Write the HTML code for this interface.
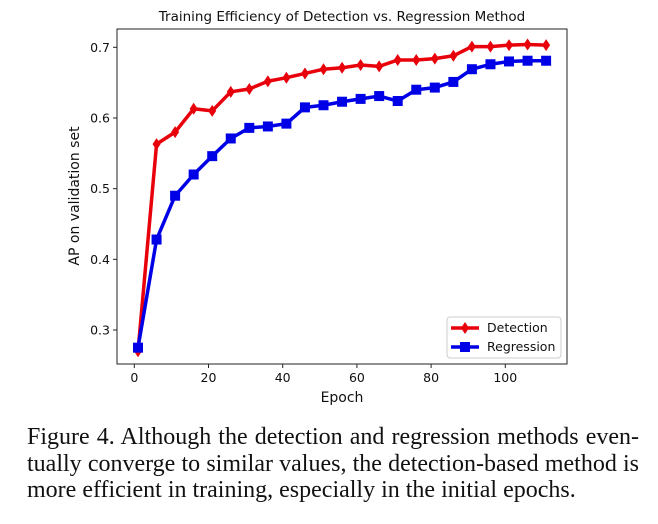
<!DOCTYPE html>
<html><head><meta charset="utf-8"><style>
body{margin:0;background:#fff;width:658px;height:524px;overflow:hidden;position:relative}
svg{position:absolute;left:0;top:0}
.cap{position:absolute;left:27px;top:424px;width:612px;font-family:"Liberation Serif",serif;font-size:24px;line-height:26.5px;color:#111}
.cap div{white-space:nowrap}
.cap .j{text-align:justify;text-align-last:justify;white-space:normal}
</style></head><body>
<svg width="658" height="420" id="chart" font-family="DejaVu Sans, Liberation Sans, sans-serif"></svg>
<div class="cap"><div class="j">Figure 4. Although the detection and regression methods even-</div><div class="j">tually converge to similar values, the detection-based method is</div><div>more efficient in training, especially in the initial epochs.</div></div>
<script>
const epochs=[1,6,11,16,21,26,31,36,41,46,51,56,61,66,71,76,81,86,91,96,101,106,111];
const detection=[0.27,0.563,0.58,0.613,0.61,0.637,0.641,0.652,0.657,0.663,0.669,0.671,0.675,0.673,0.682,0.682,0.684,0.688,0.701,0.701,0.703,0.704,0.703];
const regression=[0.275,0.428,0.49,0.52,0.546,0.571,0.586,0.588,0.592,0.615,0.618,0.623,0.627,0.631,0.624,0.640,0.643,0.651,0.669,0.676,0.680,0.681,0.681];
const xTicks=[0,20,40,60,80,100];
const yTicks=[0.3,0.4,0.5,0.6,0.7];
const L=117,R=567,T=29,B=364;
const sx=v=>134.3+(v-0)*(505.3-134.3)/100;
const sy=v=>330-(v-0.3)*(330-47.3)/0.4;
const svg=document.getElementById('chart');const NS='http://www.w3.org/2000/svg';
function mk(t,a,p){const e=document.createElementNS(NS,t);for(const k in a)e.setAttribute(k,a[k]);(p||svg).appendChild(e);return e;}
let e;
e=mk('text',{x:342,y:21,'text-anchor':'middle','font-size':13.5,fill:'#111'});e.textContent='Training Efficiency of Detection vs. Regression Method';


xTicks.forEach(v=>{mk('line',{x1:sx(v),x2:sx(v),y1:B,y2:B+4,stroke:'#222'});
 const t=mk('text',{x:sx(v),y:B+18,'text-anchor':'middle','font-size':12.5,fill:'#111'});t.textContent=v;
 
 });
yTicks.forEach(v=>{mk('line',{x1:L-4,x2:L,y1:sy(v),y2:sy(v),stroke:'#222'});
 const t=mk('text',{x:L-7,y:sy(v)+4.5,'text-anchor':'end','font-size':12.5,fill:'#111'});t.textContent=v.toFixed(1);
 
 });
e=mk('text',{x:342,y:402,'text-anchor':'middle','font-size':14,fill:'#111'});e.textContent='Epoch';


e=mk('text',{x:0,y:0,'text-anchor':'middle','font-size':14,fill:'#111',transform:'translate(79,196) rotate(-90)'});e.textContent='AP on validation set';


function diamond(g,x,y,c){mk('polygon',{points:`${x},${y-6} ${x+4},${y} ${x},${y+6} ${x-4},${y}`,fill:c},g);}
function square(g,x,y,c){mk('rect',{x:x-5,y:y-5,width:10,height:10,fill:c},g);}
function series(vals,c,mark,name){const g=mk('g',{});
 
 
 mk('polyline',{points:vals.map((v,i)=>sx(epochs[i])+','+sy(v)).join(' '),fill:'none',stroke:c,'stroke-width':3.5,'stroke-linejoin':'round'},g);
 vals.forEach((v,i)=>mark(g,sx(epochs[i]),sy(v),c));}
series(detection,'#e8000b',diamond,'detection-series');
series(regression,'#0000e6',square,'regression-series');
mk('rect',{x:L,y:T,width:R-L,height:B-T,fill:'none',stroke:'#222','stroke-width':1});
const lg=mk('g',{});


mk('rect',{x:447,y:317,width:114,height:41,rx:3,fill:'#fff',stroke:'#ccc'},lg);
mk('line',{x1:451,x2:479,y1:328,y2:328,stroke:'#e8000b','stroke-width':3.5},lg);diamond(lg,465,328,'#e8000b');
mk('line',{x1:451,x2:479,y1:347,y2:347,stroke:'#0000e6','stroke-width':3.5},lg);square(lg,465,347,'#0000e6');
e=mk('text',{x:487,y:332,'font-size':12.5,fill:'#111'},lg);e.textContent='Detection';


e=mk('text',{x:487,y:351,'font-size':12.5,fill:'#111'},lg);e.textContent='Regression';


</script>
</body></html>
